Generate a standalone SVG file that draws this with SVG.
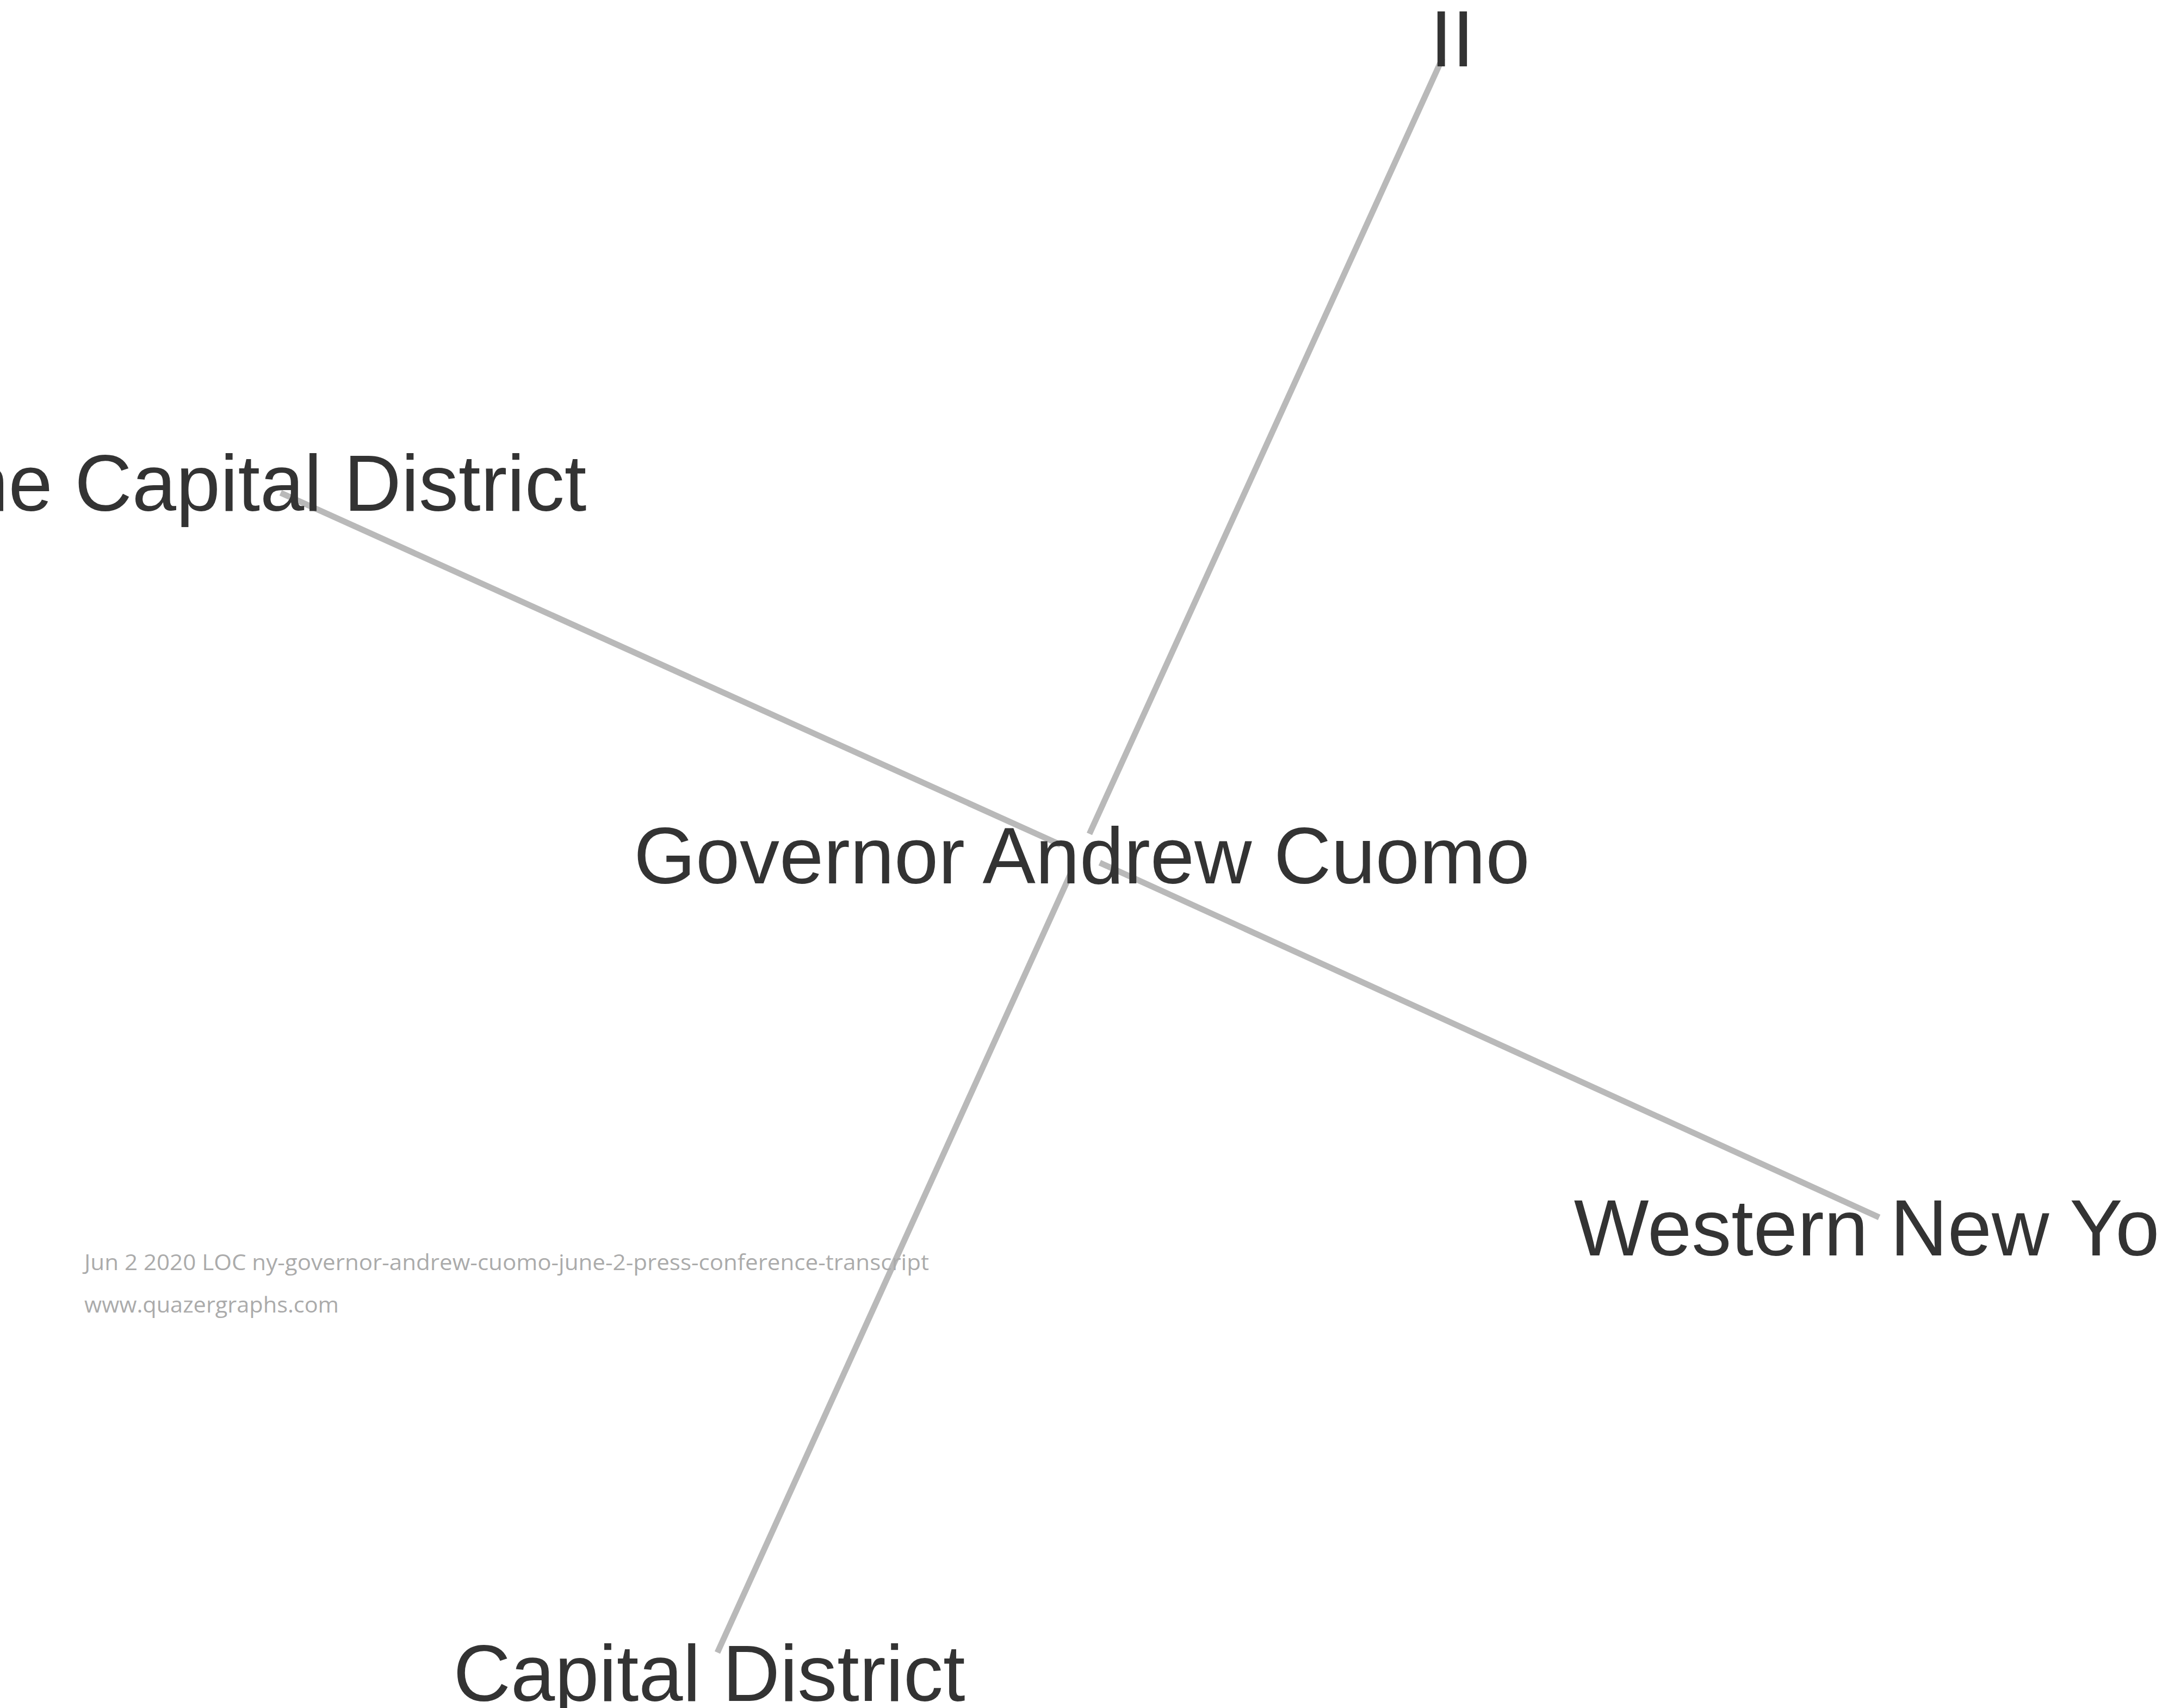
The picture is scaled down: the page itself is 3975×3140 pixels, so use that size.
<svg xmlns="http://www.w3.org/2000/svg" width="3975" height="3140" viewBox="0 0 3975 3140">
<style>
.edge{stroke:#b9b9b9;stroke-width:11;stroke-linecap:butt;fill:none}
.lbl{font-family:"Liberation Sans",Arial,sans-serif;font-size:146px;fill:#333333;text-anchor:middle}
.wm{font-family:"Open Sans","Liberation Sans",sans-serif;font-size:40px;fill:#ababab}
</style>
<rect width="3975" height="3140" fill="#ffffff"/>
<g id="connectors">
<line class="edge" x1="2003" y1="1533" x2="2652" y2="107"/>
<line class="edge" x1="1969" y1="1605" x2="1319" y2="3038"/>
<line class="edge" x1="1950" y1="1553" x2="516" y2="906"/>
<line class="edge" x1="2022" y1="1586" x2="3455" y2="2238"/>
</g>
<g id="node-governor"><text class="lbl" x="1989" y="1624">Governor Andrew Cuomo</text></g>
<g id="node-ii"><text class="lbl" x="2670" y="122">II</text></g>
<g id="node-the-capital-district"><text class="lbl" x="486" y="939">the Capital District</text></g>
<g id="node-western-new-york"><text class="lbl" x="3493" y="2308">Western New York</text></g>
<g id="node-capital-district"><text class="lbl" x="1304" y="3127">Capital District</text></g>
<g id="watermark">
<text class="wm" x="155" y="2335" textLength="1553" lengthAdjust="spacingAndGlyphs">Jun 2 2020 LOC ny-governor-andrew-cuomo-june-2-press-conference-transcript</text>
<text class="wm" x="155" y="2413" textLength="468" lengthAdjust="spacingAndGlyphs">www.quazergraphs.com</text>
</g>
</svg>
